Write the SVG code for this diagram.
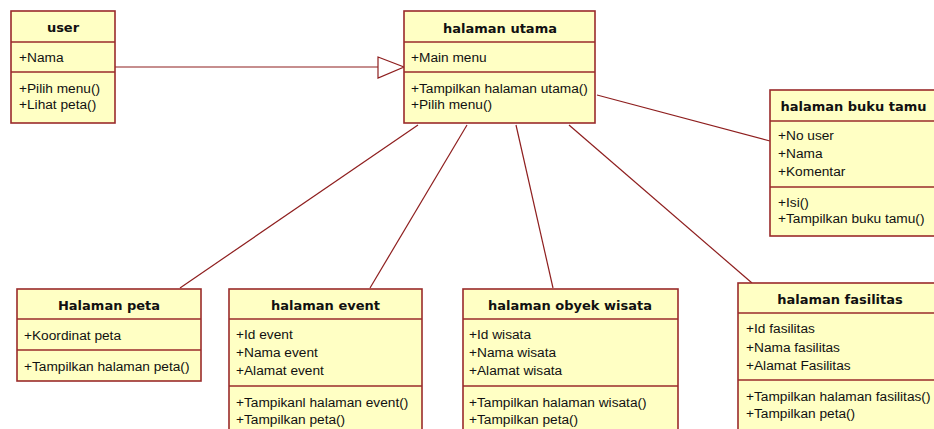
<svg xmlns="http://www.w3.org/2000/svg" width="934" height="429" viewBox="0 0 934 429">
<style>
.box{fill:#FFFFC4;stroke:#9A2B2B;stroke-width:1.6}
.div{stroke:#9A2B2B;stroke-width:1.6}
.t{font-family:"DejaVu Sans",Verdana,sans-serif;font-weight:bold;font-size:13px;fill:#111;text-anchor:middle}
.a{font-family:"Liberation Sans",Arial,sans-serif;font-size:13.7px;fill:#111}
.c{stroke:#8E1E1E;stroke-width:1.2;fill:none}
.h{fill:#fff;stroke:#8E1E1E;stroke-width:1.2}
</style>
<rect width="934" height="429" fill="#fff"/>
<g id="connectors">
<line class="c" x1="115" y1="67" x2="378" y2="67"/>
<polygon class="h" points="378,57 404,67 378,78"/>
<line class="c" x1="597" y1="95" x2="770" y2="141"/>
<line class="c" x1="418" y1="125" x2="180" y2="288"/>
<line class="c" x1="467" y1="125" x2="370" y2="288"/>
<line class="c" x1="516" y1="125" x2="553" y2="288"/>
<line class="c" x1="569" y1="125" x2="752" y2="283"/>
</g>
<g id="user">
<rect class="box" x="11" y="11" width="104" height="112"/>
<line class="div" x1="11" y1="42" x2="115" y2="42"/>
<line class="div" x1="11" y1="72" x2="115" y2="72"/>
<text class="t" x="63" y="32">user</text>
<text class="a" x="19" y="62">+Nama</text>
<text class="a" x="19" y="93">+Pilih menu()</text>
<text class="a" x="19" y="109">+Lihat peta()</text>
</g>
<g id="halaman_utama">
<rect class="box" x="404" y="11" width="191" height="112"/>
<line class="div" x1="404" y1="42" x2="595" y2="42"/>
<line class="div" x1="404" y1="72" x2="595" y2="72"/>
<text class="t" x="500" y="32.5">halaman utama</text>
<text class="a" x="411" y="62">+Main menu</text>
<text class="a" x="411" y="93">+Tampilkan halaman utama()</text>
<text class="a" x="411" y="109">+Pilih menu()</text>
</g>
<g id="halaman_buku_tamu">
<rect class="box" x="770" y="90" width="167" height="146"/>
<line class="div" x1="770" y1="121" x2="937" y2="121"/>
<line class="div" x1="770" y1="187" x2="937" y2="187"/>
<text class="t" x="853.5" y="111">halaman buku tamu</text>
<text class="a" x="778" y="140">+No user</text>
<text class="a" x="778" y="158">+Nama</text>
<text class="a" x="778" y="176">+Komentar</text>
<text class="a" x="778" y="207">+Isi()</text>
<text class="a" x="778" y="223">+Tampilkan buku tamu()</text>
</g>
<g id="halaman_peta">
<rect class="box" x="17" y="289" width="184" height="92"/>
<line class="div" x1="17" y1="319" x2="201" y2="319"/>
<line class="div" x1="17" y1="350" x2="201" y2="350"/>
<text class="t" x="109" y="309.5">Halaman peta</text>
<text class="a" x="24" y="340">+Koordinat peta</text>
<text class="a" x="24" y="371">+Tampilkan halaman peta()</text>
</g>
<g id="halaman_event">
<rect class="box" x="229" y="289" width="193" height="150"/>
<line class="div" x1="229" y1="319" x2="422" y2="319"/>
<line class="div" x1="229" y1="386" x2="422" y2="386"/>
<text class="t" x="325.5" y="309.5">halaman event</text>
<text class="a" x="236" y="339">+Id event</text>
<text class="a" x="236" y="357">+Nama event</text>
<text class="a" x="236" y="375">+Alamat event</text>
<text class="a" x="236" y="407">+Tampikanl halaman event()</text>
<text class="a" x="236" y="424">+Tampilkan peta()</text>
</g>
<g id="halaman_obyek_wisata">
<rect class="box" x="463" y="289" width="215" height="150"/>
<line class="div" x1="463" y1="319" x2="678" y2="319"/>
<line class="div" x1="463" y1="386" x2="678" y2="386"/>
<text class="t" x="570" y="309.5">halaman obyek wisata</text>
<text class="a" x="469" y="339">+Id wisata</text>
<text class="a" x="469" y="357">+Nama wisata</text>
<text class="a" x="469" y="375">+Alamat wisata</text>
<text class="a" x="469" y="407">+Tampilkan halaman wisata()</text>
<text class="a" x="469" y="424">+Tampilkan peta()</text>
</g>
<g id="halaman_fasilitas">
<rect class="box" x="738" y="283" width="204" height="156"/>
<line class="div" x1="738" y1="313" x2="942" y2="313"/>
<line class="div" x1="738" y1="380" x2="942" y2="380"/>
<text class="t" x="840" y="303.5">halaman fasilitas</text>
<text class="a" x="746" y="333">+Id fasilitas</text>
<text class="a" x="746" y="352">+Nama fasilitas</text>
<text class="a" x="746" y="370">+Alamat Fasilitas</text>
<text class="a" x="746" y="401">+Tampilkan halaman fasilitas()</text>
<text class="a" x="746" y="418">+Tampilkan peta()</text>
</g>
</svg>
